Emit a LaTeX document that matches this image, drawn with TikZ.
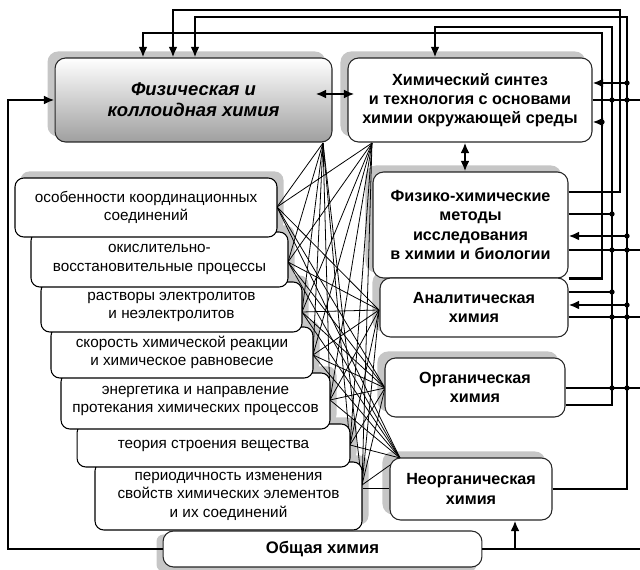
\documentclass[tikz,border=0pt]{standalone}
\usepackage{fontspec}
\setmainfont{Liberation Sans}
\usetikzlibrary{arrows.meta,calc}
\pgfdeclarelayer{shadowlayer}
\pgfdeclarelayer{weblayer}
\pgfsetlayers{shadowlayer,weblayer,main}
\begin{document}
\begin{tikzpicture}[x=0.02cm,y=-0.02cm,
 lbox/.style={draw=black, line width=0.6pt, fill=white, rounded corners=5pt, align=center, inner sep=0pt, font=\fontsize{8.7}{10.5}\selectfont},
 rbox/.style={draw=black!85, line width=0.6pt, fill=white, rounded corners=6pt, align=center, inner sep=0pt, font=\fontsize{9.2}{11}\selectfont\bfseries},
 conn/.style={line width=1.2pt},
 arr/.style={conn,-{Latex[length=6pt,width=5pt]}},
 darr/.style={conn,{Latex[length=6pt,width=5pt]}-{Latex[length=6pt,width=5pt]}},
 web/.style={line width=0.45pt},
 shad/.style={fill=gray!45},
 jd/.style={fill=black}
]
\useasboundingbox (0,0) rectangle (640,570);

% left column (lower boxes first, upper ones overlap them)
\node[lbox, minimum width=5.34cm, minimum height=1.36cm] (l7) at (228.5,496) {периодичность изменения\\свойств химических элементов\\и их соединений};
\node[lbox, minimum width=5.46cm, minimum height=0.86cm] (l6) at (213.5,445.5) {теория строения вещества};
\node[lbox, minimum width=5.38cm, minimum height=1.12cm] (l5) at (195.5,401) {энергетика и направление\\протекания химических процессов};
\node[lbox, minimum width=5.24cm, minimum height=1.02cm] (l4) at (182,352.5) {скорость химической реакции\\и химическое равновесие};
\node[lbox, minimum width=5.22cm, minimum height=1.0cm] (l3) at (171.5,307) {растворы электролитов\\и неэлектролитов};
\node[lbox, minimum width=5.14cm, minimum height=1.1cm] (l2) at (159.5,259.5) {окислительно-\\восстановительные процессы};
\node[lbox, minimum width=5.24cm, minimum height=1.18cm] (l1) at (146,207.5) {особенности координационных\\соединений};

% top and right column
\node[rbox, minimum width=5.54cm, minimum height=1.68cm, top color=white, middle color=gray!25, bottom color=gray!75, font=\fontsize{10.5}{12}\selectfont\bfseries\itshape] (pk) at (193.5,100) {Физическая и\\коллоидная химия};
\node[rbox, minimum width=4.88cm, minimum height=1.68cm] (sy) at (470,100) {Химический синтез\\и технология с основами\\химии окружающей среды};
\node[rbox, minimum width=3.9cm, minimum height=2.12cm] (fm) at (470.5,225) {Физико-химические\\методы\\исследования\\в химии и биологии};
\node[rbox, minimum width=3.76cm, minimum height=1.18cm] (an) at (474,307.5) {Аналитическая\\химия};
\node[rbox, minimum width=3.6cm, minimum height=1.18cm] (or) at (475,387.5) {Органическая\\химия};
\node[rbox, minimum width=3.24cm, minimum height=1.24cm] (ne) at (471,489) {Неорганическая\\химия};
\node[rbox, minimum width=6.38cm, minimum height=0.72cm, font=\fontsize{9.5}{11}\selectfont\bfseries] (ob) at (322.5,549) {Общая химия};

% shadows
\begin{pgfonlayer}{shadowlayer}
 \foreach \n in {pk,sy,fm,an,or,ne}
  \fill[shad, rounded corners=6pt] ([shift={(-7,-6)}]\n.north west) rectangle ([shift={(-7,-6)}]\n.south east);
 \fill[shad, rounded corners=4pt] ([shift={(-6,4)}]ob.north west) rectangle ([shift={(-6,4)}]ob.south east);
 \foreach \n in {l1,l2,l3,l4,l5,l6,l7}
  \fill[shad, rounded corners=5pt] ([shift={(6,-6)}]\n.north west) rectangle ([shift={(6,-6)}]\n.south east);
\end{pgfonlayer}

% web of thin connections
\coordinate (h1) at (323,143);
\coordinate (h2) at (372,143);
\coordinate (h3) at (379,310);
\coordinate (h4) at (385,388);
\coordinate (h5) at (400,458);
\coordinate (a1) at (277,207);
\coordinate (a2) at (288,262);
\coordinate (a3) at (302,312);
\coordinate (a4) at (313,355);
\coordinate (a5) at (330,400);
\coordinate (a6) at (350,445);
\coordinate (a7) at (362,485);
\begin{pgfonlayer}{weblayer}
 \foreach \i in {1,...,7}
  \foreach \j in {1,...,5}
   \draw[web] (a\i) -- (h\j);
 \draw[web] (l7.east |- 0,488) -- (ne.west |- 0,488);
\end{pgfonlayer}

% main connectors
\draw[darr] ([xshift=-0.34cm,yshift=0.12cm]pk.east) -- ([xshift=0.14cm,yshift=0.12cm]sy.west);
\draw[darr] (sy.south -| 465,0) -- (fm.north -| 465,0);

\draw[arr] (fm.east |- 0,192) -- (620,192) -- (620,10) -- (173,10) -- (173,0 |- pk.north);
\draw[arr] (ne.east |- 0,489) -- (627,489) -- (627,17) -- (195,17) -- (195,0 |- pk.north);
\draw[arr] (or.east |- 0,405) -- (612,405) -- (612,27) -- (435,27) -- (435,0 |- sy.north);
\draw[arr] (fm.south east) -- (602,0 |- fm.south) -- (602,33) -- (143,33) -- (143,0 |- pk.north);

\draw[arr] (627,83) -- (sy.east |- 0,83);
\draw[arr] (627,236) -- (fm.east |- 0,236);
\draw[arr] (627,305) -- (an.east |- 0,305);
\draw[arr] (602,122) -- (sy.east |- 0,122);
\draw[conn] (fm.east |- 0,214) -- (612,214);
\draw[conn] (an.east |- 0,292) -- (612,292);

\draw[conn] (sy.east) -- (sy.east -| 640,0);
\draw[conn] (fm.east |- 0,250) -- (640,250);
\draw[conn] (an.east |- 0,317) -- (640,317);
\draw[conn] (or.east |- 0,388) -- (640,388);

\draw[arr] (ob.west) -| (8,0 |- pk.west) -- (pk.west);
\draw[conn] (ob.east) -- (ob.east -| 640,0);
\draw[arr] (ob.east -| 515,0) -- (ne.south -| 515,0);

\foreach \p in {(627,83),(627,236),(627,305),(612,214),(612,292),(602,122),(612,388),(627,388),(612,100),(627,100),(612,250),(627,250),(612,317),(627,317)}
 \fill[jd] \p circle[radius=1.5pt];
\end{tikzpicture}
\end{document}
